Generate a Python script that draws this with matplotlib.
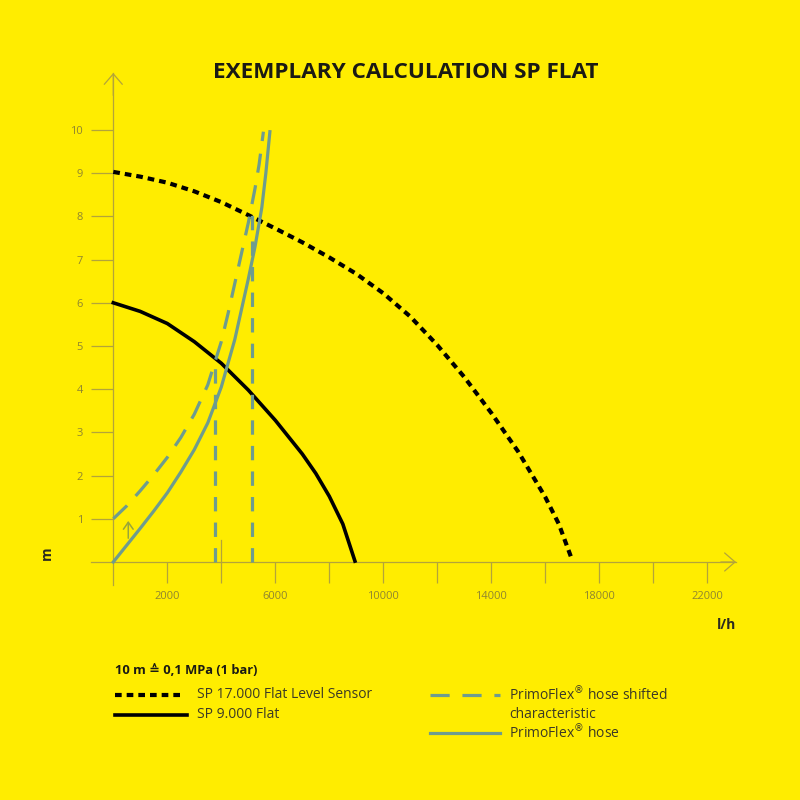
import matplotlib
matplotlib.use('Agg')
import matplotlib.pyplot as plt
from matplotlib.lines import Line2D

plt.rcParams['font.family'] = ['Open Sans', 'DejaVu Sans']

# pump curves (flow l/h, head m)
sp17_q = [0, 1000, 2000, 3000, 4000, 5000, 6000, 7000, 8000, 9000, 10000,
          11000, 12000, 13000, 14000, 15000, 16000, 16500, 16950]
sp17_h = [9.03, 8.92, 8.78, 8.58, 8.33, 8.03, 7.72, 7.4, 7.05, 6.67, 6.22,
          5.68, 5.02, 4.28, 3.45, 2.55, 1.5, 0.88, 0.12]

sp9_q = [0, 1000, 2000, 3000, 4000, 5000, 6000, 7000, 7500, 8000, 8500, 8950]
sp9_h = [6.0, 5.8, 5.52, 5.1, 4.6, 3.98, 3.28, 2.5, 2.05, 1.52, 0.88, 0.02]

# hose characteristics
hose_q = [0, 500, 1000, 1500, 2000, 2500, 3000, 3500, 4000, 4500, 4750,
          5000, 5250, 5500, 5650, 5800]
hose_h = [0, 0.39, 0.78, 1.18, 1.6, 2.08, 2.6, 3.22, 4.05, 5.15, 5.85,
          6.55, 7.3, 8.2, 9.0, 9.96]

shift_q = [0, 500, 1000, 1500, 2000, 2500, 3000, 3500, 4000, 4250, 4500,
           4750, 5000, 5250, 5400, 5560]
shift_h = [1.0, 1.3, 1.65, 2.02, 2.42, 2.88, 3.42, 4.1, 5.1, 5.75, 6.45,
           7.15, 7.85, 8.65, 9.2, 9.96]

# operating point markers (vertical dashed)
op_q = [3770, 5120]
op_h = [4.7, 8.03]

xticks = [2000, 4000, 6000, 8000, 10000, 12000, 14000, 16000, 18000, 20000, 22000]
xlabels = ['2000', '', '6000', '', '10000', '', '14000', '', '18000', '', '22000']
yticks = [1, 2, 3, 4, 5, 6, 7, 8, 9, 10]

bg = '#ffed00'
axc = '#b3a43a'
tickc = '#8f8530'
hosec = '#6e9c8e'
txtc = '#3c3a26'

fig = plt.figure(figsize=(8, 8), dpi=100, facecolor=bg)
ax = fig.add_axes([80/800, 200/800, 665/800, 540/800])
ax.set_facecolor(bg)
ax.set_xlim(-1233, 23396)
ax.set_ylim(-0.88, 11.62)

for s in ['top', 'right']:
    ax.spines[s].set_visible(False)
ax.spines['left'].set_position(('data', 0))
ax.spines['bottom'].set_position(('data', 0))
ax.spines['left'].set_bounds(-0.53, 11.32)
ax.spines['bottom'].set_bounds(-826, 23063)
for s in ['left', 'bottom']:
    ax.spines[s].set_color(axc)
    ax.spines[s].set_linewidth(0.9)

ax.set_xticks(xticks)
ax.set_xticklabels(xlabels)
ax.set_yticks(yticks)
ax.set_yticklabels([str(v) for v in yticks])
ax.tick_params(axis='x', direction='out', length=15, width=0.9, color=axc,
               labelcolor=tickc, labelsize=8, pad=6)
ax.tick_params(axis='y', direction='out', length=15.8, width=0.9, color=axc,
               labelcolor=tickc, labelsize=8, pad=6)

# longer tick at 4000
ax.plot([4000, 4000], [0, 0.51], color=axc, lw=0.9, zorder=1)

# axis arrowheads
arr = dict(arrowstyle='->,head_length=0.75,head_width=0.65', color=axc, lw=0.9,
           shrinkA=0, shrinkB=0, mutation_scale=10)
ax.annotate('', xy=(0, 11.32), xytext=(0, 10.8), arrowprops=arr)
ax.annotate('', xy=(23063, 0), xytext=(22500, 0), arrowprops=arr)

# curves
ax.plot(sp17_q, sp17_h, color='black', lw=3, dashes=(1.6, 1.2), zorder=3,
        solid_joinstyle='round')
ax.plot(sp9_q, sp9_h, color='black', lw=2.6, zorder=3, solid_joinstyle='round')
ax.plot(shift_q, shift_h, color=hosec, lw=2.3, dashes=(6, 4), zorder=4)
ax.plot(hose_q, hose_h, color=hosec, lw=2.3, zorder=4, solid_joinstyle='round')
for q, h in zip(op_q, op_h):
    ax.plot([q, q], [0, h], color=hosec, lw=2.3, dashes=(4.5, 3.5), zorder=4)

# small shift arrow
ax.annotate('', xy=(555, 0.95), xytext=(555, 0.55),
            arrowprops=dict(arrowstyle='->,head_length=0.5,head_width=0.35',
                            color='#98a53a', lw=1.1, shrinkA=0, shrinkB=0,
                            mutation_scale=10))

# title and axis labels
fig.text(406/800, 1 - 73/800, 'EXEMPLARY CALCULATION SP FLAT', ha='center', va='center',
         fontsize=16.2, fontweight='bold', color='#1a1a14')
fig.text(47/800, 1 - 553/800, 'm', rotation=90, ha='center', va='center',
         fontsize=10, fontweight='bold', color='#2a2a20')
fig.text(727/800, 1 - 625/800, 'l/h', ha='center', va='center',
         fontsize=10, fontweight='bold', color='#2a2a20')

# legend
def fy(py):
    return 1 - py/800

fig.text(115/800, fy(671), '10 m \u2259 0,1 MPa (1 bar)', ha='left', va='center',
         fontsize=9.3, fontweight='bold', color='#1a1a14')
fig.add_artist(Line2D([115/800, 185/800], [fy(695), fy(695)], color='black', lw=3,
                      dashes=(1.6, 1.2)))
fig.add_artist(Line2D([115/800, 187/800], [fy(715), fy(715)], color='black', lw=2.6))
fig.add_artist(Line2D([430/800, 500/800], [fy(695), fy(695)], color=hosec, lw=2.3,
                      dashes=(6, 4)))
fig.add_artist(Line2D([430/800, 500/800], [fy(733), fy(733)], color=hosec, lw=2.3))

leg = dict(ha='left', va='center', fontsize=10, color=txtc)
fig.text(197/800, fy(695), 'SP 17.000 Flat Level Sensor', **leg)
fig.text(197/800, fy(715), 'SP 9.000 Flat', **leg)
fig.text(509/800, fy(695), 'PrimoFlex$^{\u00ae}$ hose shifted', **leg)
fig.text(509/800, fy(715), 'characteristic', **leg)
fig.text(509/800, fy(733), 'PrimoFlex$^{\u00ae}$ hose', **leg)

fig.savefig('out.png', dpi=100, facecolor=bg)
